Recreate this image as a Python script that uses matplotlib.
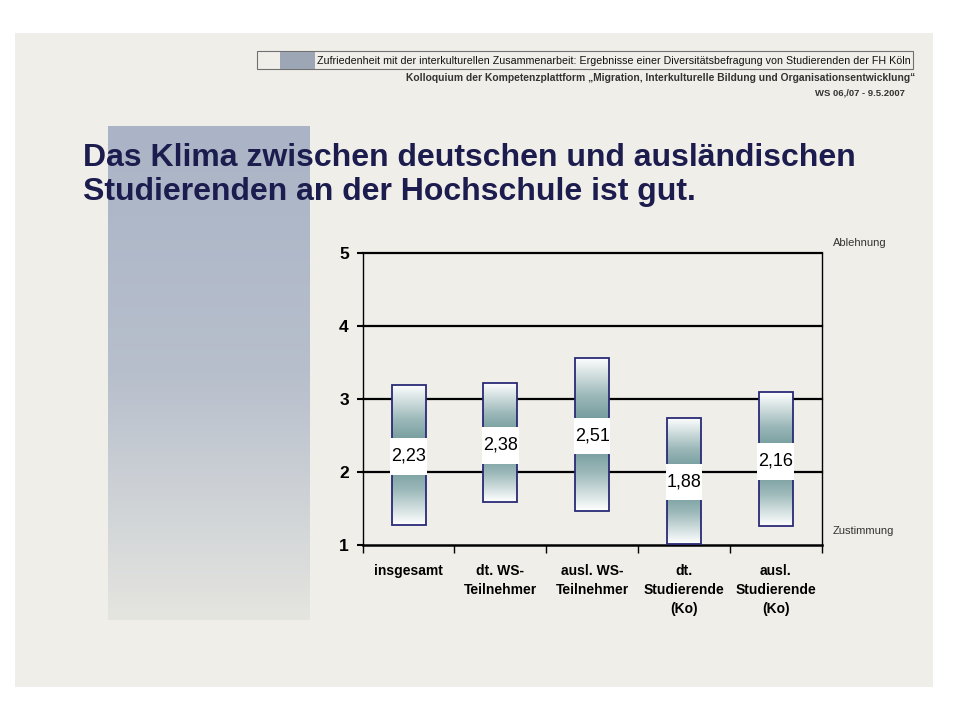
import numpy as np
import matplotlib
matplotlib.use("Agg")
import matplotlib.pyplot as plt
from matplotlib.patches import Rectangle
from matplotlib.colors import LinearSegmentedColormap

########### Data #########
categories = ["insgesamt", "dt. WS-\nTeilnehmer", "ausl. WS-\nTeilnehmer",
              "dt.\nStudierende\n(Ko)", "ausl.\nStudierende\n(Ko)"]
means = [2.23, 2.38, 2.51, 1.88, 2.16]
upper = [3.19, 3.22, 3.56, 2.74, 3.09]
lower = [1.27, 1.59, 1.46, 1.01, 1.26]
labels = ["2,23", "2,38", "2,51", "1,88", "2,16"]
yticks = [1, 2, 3, 4, 5]

title_lines = ["Das Klima zwischen deutschen und ausländischen",
               "Studierenden an der Hochschule ist gut."]
header = ("Zufriedenheit mit der interkulturellen Zusammenarbeit: Ergebnisse einer "
          "Diversitätsbefragung von Studierenden der FH Köln")
sub1 = "Kolloquium der Kompetenzplattform \u201eMigration, Interkulturelle Bildung und Organisationsentwicklung\u201c"
sub2 = "WS 06,/07 - 9.5.2007"

narrow = ["Liberation Sans Narrow", "Liberation Sans", "DejaVu Sans"]
sans = ["Liberation Sans", "DejaVu Sans"]

bg = "#efeee8"
navy = "#1c1c4e"

fig = plt.figure(figsize=(9.6, 7.2), dpi=100)
fig.patch.set_facecolor("white")

# background layer in pixel coords
bgax = fig.add_axes([0, 0, 1, 1])
bgax.axis("off")
bgax.add_patch(Rectangle((15, 33), 918, 654, facecolor=bg, edgecolor="none"))

# blue-grey fading block
side = LinearSegmentedColormap.from_list("side", ["#aab4c6", "#b7bfcc", "#e5e5e0"])
grad = np.linspace(0, 1, 256).reshape(-1, 1)
bgax.imshow(grad, cmap=side, extent=(108, 310, 620, 126), aspect="auto", zorder=1)
bgax.set_xlim(0, 960)
bgax.set_ylim(720, 0)

# header box
bgax.add_patch(Rectangle((257, 51), 656, 18, facecolor=bg, edgecolor="#707070", lw=0.8, zorder=2))
bgax.add_patch(Rectangle((280, 51.5), 35, 17, facecolor="#9da6b4", edgecolor="none", zorder=3))
bgax.text(317, 60.5, header, fontsize=7.62, family=narrow, va="center", ha="left", color="#111111", zorder=4)
bgax.text(915, 78, sub1, fontsize=7.4, family=narrow, fontweight="bold", va="center", ha="right", color="#333333")
bgax.text(905, 93, sub2, fontsize=6.8, family=narrow, fontweight="bold", va="center", ha="right", color="#333333")

# title
for k, line in enumerate(title_lines):
    bgax.text(83, 158 + 34 * k, line, fontsize=23, family=sans, fontweight="bold", color=navy,
              va="center", ha="left", zorder=5)

bgax.text(833, 243, "Ablehnung", fontsize=8, family=sans, color="#333333", va="center")
bgax.text(833, 531, "Zustimmung", fontsize=8, family=sans, color="#333333", va="center")

# chart
ax = fig.add_axes([0.3778, 0.2435, 0.478, 0.4056])
ax.set_facecolor("none")
x = np.arange(len(categories))
w = 0.37

bar_cmap = LinearSegmentedColormap.from_list("bar", ["#5b8a8b", "#9cb8b9", "#ffffff"])
for i in x:
    lo, hi, m = lower[i], upper[i], means[i]
    ys = np.linspace(lo, hi, 200)
    t = np.where(ys >= m, (ys - m) / (hi - m), (m - ys) / (m - lo))
    img = bar_cmap(np.clip(t, 0, 1))[:, None, :]
    im = ax.imshow(img, extent=(i - w / 2, i + w / 2, lo, hi), origin="lower",
                   aspect="auto", zorder=3)
    r = Rectangle((i - w / 2, lo), w, hi - lo, facecolor="none", edgecolor="#2a2a78", lw=1.3, zorder=4)
    ax.add_patch(r)
    im.set_clip_path(r)
    ax.add_patch(Rectangle((i - 0.2, m - 0.27), 0.4, 0.5, facecolor="white", edgecolor="none", zorder=5))
    ax.text(i, m - 0.02, labels[i], fontsize=13, family=narrow, ha="center", va="center", zorder=6)

ax.set_xlim(-0.5, len(categories) - 0.5)
ax.set_ylim(1, 5)
for v in yticks[1:]:
    ax.axhline(v, color="black", lw=1.6, zorder=2, clip_on=False)

ax.set_yticks(yticks)
ax.set_yticklabels([str(v) for v in yticks], family=narrow, fontsize=12.5, fontweight="bold")
ax.set_xticks(np.arange(-0.5, len(categories)), minor=False)
ax.set_xticklabels([])
ax.set_xticks(x, minor=True)
ax.set_xticklabels(categories, minor=True, family=sans, fontsize=10, fontweight="bold", linespacing=1.45)
ax.tick_params(axis="x", which="major", direction="out", length=6, width=1)
ax.tick_params(axis="x", which="minor", length=0, pad=14)
ax.tick_params(axis="y", direction="out", length=4, width=1.5, pad=6)

for s in ["left", "right"]:
    ax.spines[s].set_linewidth(1)
ax.spines["bottom"].set_linewidth(1.8)
ax.spines["top"].set_visible(False)

fig.savefig("out.png", dpi=100, facecolor="white")
